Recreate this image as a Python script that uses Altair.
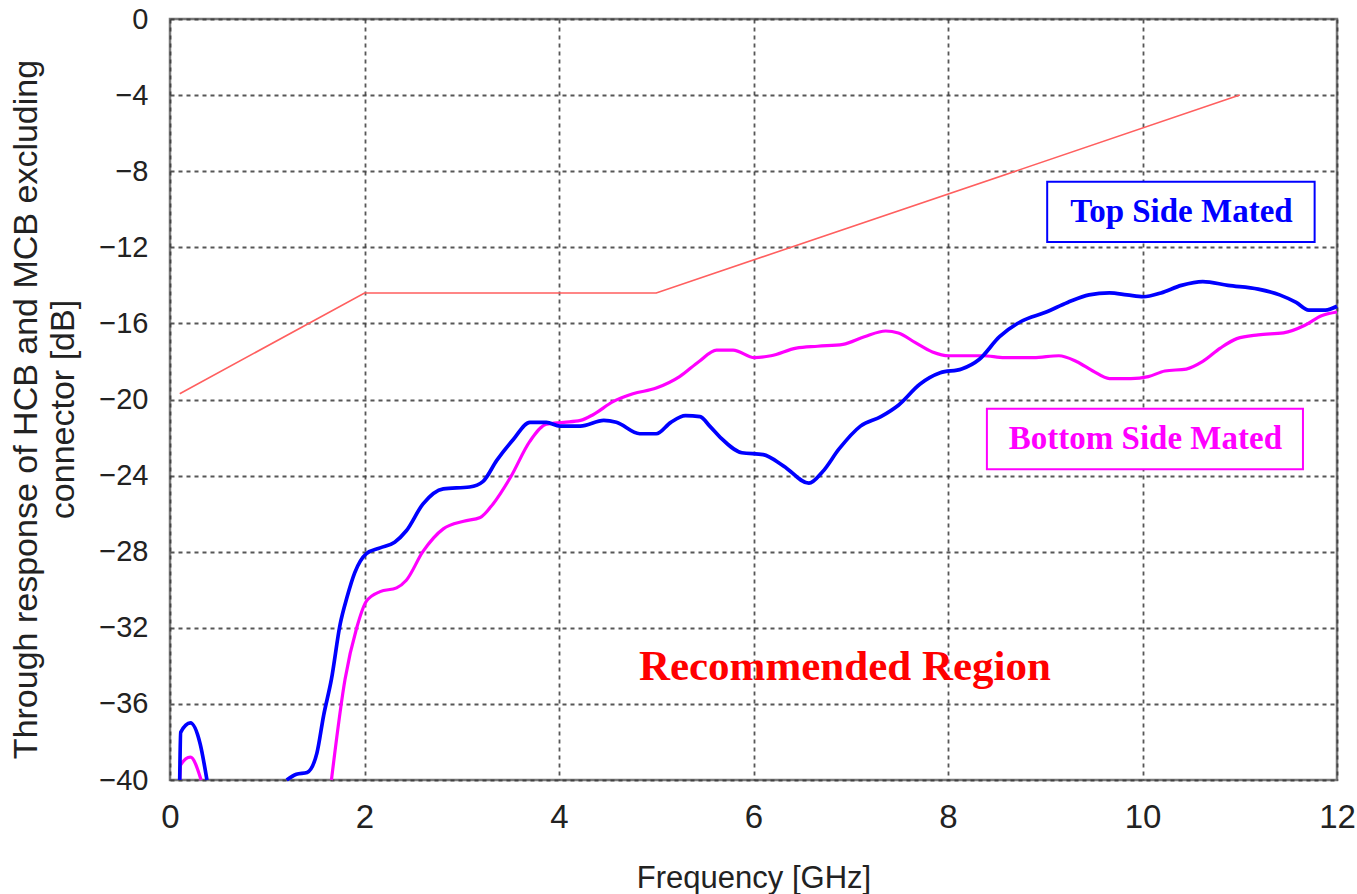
import altair as alt
import pandas as pd

# ---- data ----
limit_f = [0.1, 2.0, 5.0, 11.0]
limit_db = [-19.7, -14.4, -14.4, -4.0]

top_seg1_f = [0.10, 0.11, 0.21, 0.31, 0.38]
top_seg1_db = [-40.0, -37.5, -37.0, -38.1, -40.0]
top_seg2_f = [1.20, 1.30, 1.41, 1.51, 1.58, 1.66, 1.75, 1.82, 1.90, 2.02, 2.16, 2.31, 2.43, 2.60,
              2.81, 3.08, 3.22, 3.36, 3.53, 3.70, 3.87, 4.01, 4.22, 4.46, 4.59, 4.83, 5.00, 5.15,
              5.30, 5.45, 5.55, 5.66, 5.88, 6.10, 6.31, 6.57, 6.71, 6.88, 7.10, 7.31, 7.49, 7.71,
              7.92, 8.14, 8.32, 8.53, 8.75, 9.01, 9.23, 9.45, 9.66, 9.84, 10.01, 10.19, 10.40,
              10.62, 10.88, 11.19, 11.41, 11.58, 11.71, 11.88, 12.00]
top_seg2_db = [-40.0, -39.7, -39.6, -38.6, -36.6, -34.7, -31.8, -30.4, -29.1, -28.1, -27.8, -27.5,
               -26.9, -25.5, -24.7, -24.6, -24.3, -23.2, -22.1, -21.2, -21.2, -21.4, -21.4, -21.1,
               -21.2, -21.8, -21.8, -21.2, -20.85, -20.9, -21.4, -22.0, -22.8, -22.9, -23.5, -24.4,
               -23.8, -22.6, -21.4, -20.9, -20.3, -19.2, -18.6, -18.4, -17.9, -16.7, -15.9, -15.4,
               -14.9, -14.5, -14.4, -14.5, -14.6, -14.4, -14.0, -13.8, -14.0, -14.2, -14.5, -14.9,
               -15.3, -15.3, -15.1]

bot_seg1_f = [0.10, 0.11, 0.21, 0.32]
bot_seg1_db = [-40.0, -39.2, -38.8, -40.0]
bot_seg2_f = [1.66, 1.80, 1.92, 2.02, 2.16, 2.33, 2.43, 2.60, 2.81, 3.02, 3.19, 3.32, 3.50, 3.70,
              3.87, 4.05, 4.22, 4.35, 4.56, 4.76, 5.00, 5.24, 5.44, 5.62, 5.79, 6.01, 6.18, 6.44,
              6.66, 6.92, 7.14, 7.36, 7.49, 7.66, 7.84, 8.01, 8.36, 8.58, 8.88, 9.14, 9.32, 9.49,
              9.66, 9.88, 10.06, 10.23, 10.45, 10.62, 10.80, 10.97, 11.19, 11.45, 11.67, 11.84, 12.00]
bot_seg2_db = [-40.0, -34.7, -32.0, -30.6, -30.1, -29.9, -29.5, -28.0, -26.8, -26.4, -26.2, -25.5,
               -24.1, -22.2, -21.3, -21.2, -21.1, -20.8, -20.1, -19.7, -19.4, -18.8, -18.0, -17.4,
               -17.4, -17.8, -17.7, -17.3, -17.2, -17.1, -16.7, -16.4, -16.5, -17.0, -17.5, -17.7,
               -17.7, -17.8, -17.8, -17.7, -18.0, -18.5, -18.9, -18.9, -18.8, -18.5, -18.4, -18.0,
               -17.3, -16.8, -16.6, -16.5, -16.1, -15.6, -15.4]

x_ticks = [0, 2, 4, 6, 8, 10, 12]
y_ticks = [0, -4, -8, -12, -16, -20, -24, -28, -32, -36, -40]

labels_text = ["Top Side Mated", "Bottom Side Mated", "Recommended Region"]


def seg_frame(fs, dbs, seg):
    return pd.DataFrame({"f": fs, "db": dbs, "seg": [seg] * len(fs)})


limit_df = seg_frame(limit_f, limit_db, "a")
top_df = pd.concat([seg_frame(top_seg1_f, top_seg1_db, "a"), seg_frame(top_seg2_f, top_seg2_db, "b")])
bot_df = pd.concat([seg_frame(bot_seg1_f, bot_seg1_db, "a"), seg_frame(bot_seg2_f, bot_seg2_db, "b")])

xs = alt.Scale(domain=[0, 12], nice=False, zero=False)
ys = alt.Scale(domain=[-40, 0], nice=False, zero=False)

x_axis = alt.Axis(values=x_ticks, format="d", title="Frequency [GHz]", grid=True, ticks=False,
                  labelFont="Liberation Sans", labelFontSize=33, labelColor="#222",
                  labelPadding=21, labelFlush=False,
                  titleFont="Liberation Sans", titleFontSize=31, titleFontWeight="normal",
                  titleColor="#222", titleY=98, titleBaseline="middle",
                  domain=False)
y_axis = alt.Axis(values=y_ticks, format="d",
                  title=["Through response of HCB and MCB excluding", "connector [dB]"],
                  grid=True, ticks=False, labelFont="Liberation Sans", labelFontSize=29,
                  labelColor="#222", labelPadding=22, labelFlush=False,
                  titleFont="Liberation Sans", titleFontSize=34, titleFontWeight="normal",
                  titleColor="#222", titleX=-144, titleY=390, titleAngle=-90,
                  titleAlign="center", titleBaseline="middle", titleLineHeight=37,
                  domain=False)

base_x = alt.X("f:Q", scale=xs, axis=x_axis)
base_y = alt.Y("db:Q", scale=ys, axis=y_axis)

limit_line = alt.Chart(limit_df).mark_line(color="#FF5F5F", strokeWidth=1.6).encode(
    x=base_x, y=base_y, detail="seg:N")
bot_line = alt.Chart(bot_df).mark_line(color="#FF00FF", strokeWidth=3.2, interpolate="monotone").encode(
    x=alt.X("f:Q", scale=xs), y=alt.Y("db:Q", scale=ys), detail="seg:N")
top_line = alt.Chart(top_df).mark_line(color="#0000FF", strokeWidth=3.7, interpolate="monotone").encode(
    x=alt.X("f:Q", scale=xs), y=alt.Y("db:Q", scale=ys), detail="seg:N")

# annotation boxes (data coordinates)
box_df = pd.DataFrame({
    "x1": [9.02, 8.40], "x2": [11.77, 11.65],
    "y1": [-8.56, -20.49], "y2": [-11.72, -23.66],
    "c": ["#0000FF", "#FF00FF"],
})
boxes = alt.Chart(box_df).mark_rect(fill="white", strokeWidth=2).encode(
    x=alt.X("x1:Q", scale=xs), x2="x2:Q",
    y=alt.Y("y1:Q", scale=ys), y2="y2:Q",
    stroke=alt.Stroke("c:N", scale=None))

text_df = pd.DataFrame({
    "x": [10.40, 10.03, 6.94], "y": [-10.15, -22.1, -34.05],
    "t": labels_text, "c": ["#0000FF", "#FF00FF", "#FF0000"], "s": [33, 33, 43],
})
texts = alt.Chart(text_df).mark_text(font="Liberation Serif", fontWeight="bold",
                                     align="center", baseline="middle").encode(
    x=alt.X("x:Q", scale=xs), y=alt.Y("y:Q", scale=ys), text="t:N",
    color=alt.Color("c:N", scale=None), size=alt.Size("s:Q", scale=None))

chart = alt.layer(limit_line, bot_line, top_line, boxes, texts).properties(
    width=1167, height=761,
    autosize=alt.AutoSizeParams(type="none"),
    padding={"left": 170, "top": 19, "right": 20, "bottom": 114},
    background="white",
).configure_view(stroke="#7a7a7a", strokeWidth=2.5).configure_axis(
    gridColor="#3a3a3a", gridDash=[4, 4], gridWidth=1.8, gridOpacity=0.85)

chart.save("out.html", embed_options={"renderer": "svg", "actions": False})
